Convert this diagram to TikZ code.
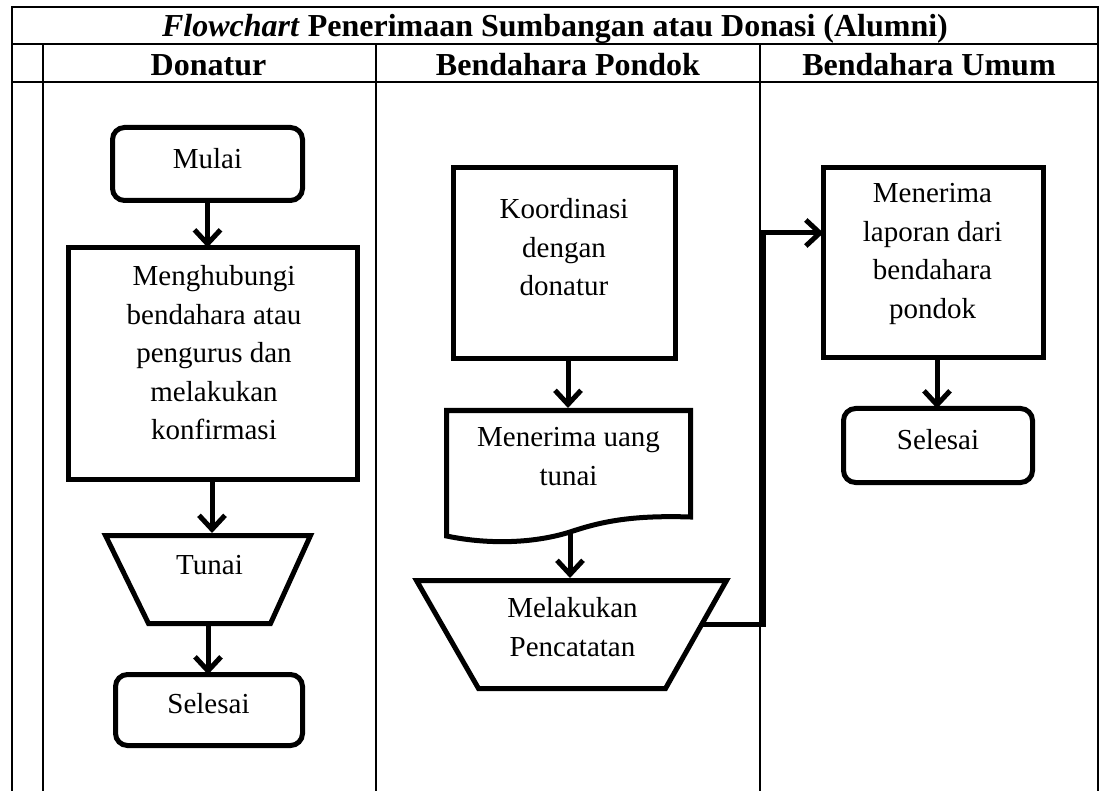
\documentclass[tikz,border=0pt]{standalone}
\usepackage{fontspec}
\setmainfont{Liberation Serif}
\usetikzlibrary{arrows.meta,calc}
\begin{document}
\begin{tikzpicture}[x=1pt,y=-1pt,
  grid/.style={line width=2.2pt},
  shp/.style={line width=5pt, line join=miter},
  terminal/.style={draw, line width=5pt, rounded corners=12pt, inner sep=0pt, outer sep=0pt},
  procbox/.style={draw, line width=5pt, inner sep=0pt, outer sep=0pt},
  ghost/.style={inner sep=0pt, outer sep=0pt},
  txt/.style={font=\fontsize{29}{38.5}\selectfont, align=center, inner sep=0pt, anchor=north},
  hdr/.style={font=\fontsize{32}{36}\selectfont\bfseries, inner sep=0pt, anchor=base},
  tipstyle/.style={-{Straight Barb[length=14pt,width=26pt]}},
  arr/.style={line width=5pt, tipstyle}]
\useasboundingbox (0,0) rectangle (1103,791);
% table
\draw[grid] (12,791) -- (12,7) -- (1098,7) -- (1098,791);
\draw[grid] (12,44) -- (1098,44);
\draw[grid] (12,82) -- (1098,82);
\draw[grid] (43,44) -- (43,791);
\draw[grid] (376,44) -- (376,791);
\draw[grid] (760,44) -- (760,791);
\node[hdr] (title) at (555,37) {\textit{Flowchart} Penerimaan Sumbangan atau Donasi (Alumni)};
\node[hdr] (h1) at (208.5,76) {Donatur};
\node[hdr] (h2) at (568,76) {Bendahara Pondok};
\node[hdr] (h3) at (929,76) {Bendahara Umum};
% Donatur lane
\node[terminal, minimum width=190, minimum height=73] (mulai) at (207.5,164) {};
\node[txt] (tmulai) at (207.5,148.2) {Mulai};
\node[procbox, minimum width=289, minimum height=232] (hub) at (213,363.5) {};
\node[txt] (thub) at (214,265.2) {Menghubungi\\bendahara atau\\pengurus dan\\melakukan\\konfirmasi};
\node[ghost, minimum width=210, minimum height=93] (tunai) at (208,579.5) {};
\draw[shp] (105.5,535.5) -- (310.5,535.5) -- (270.5,623.5) -- (148.5,623.5) -- cycle;
\node[txt] (ttunai) at (209.5,555.2) {Tunai};
\node[terminal, minimum width=187, minimum height=71] (sel1) at (209,710) {};
\node[txt] (tsel1) at (208.5,693.2) {Selesai};
% Bendahara Pondok lane
\node[procbox, minimum width=222, minimum height=191] (koord) at (564.5,263) {};
\node[txt] (tkoord) at (564,198.2) {Koordinasi\\dengan\\donatur};
\node[ghost, minimum width=249, minimum height=135] (doc) at (568.5,475.5) {};
\draw[shp] (446.5,410.5) -- (690.5,410.5) -- (690.5,517)
  .. controls (630,515) and (600,522) .. (570,532)
  .. controls (535,543) and (490,545) .. (446.5,536) -- cycle;
\node[txt] (tdoc) at (568.5,427.2) {Menerima uang\\tunai};
\node[ghost, minimum width=315, minimum height=113] (catat) at (571.5,634.5) {};
\draw[shp] (416.5,580.5) -- (726.5,580.5) -- (665.5,688.5) -- (478.5,688.5) -- cycle;
\node[txt] (tcatat) at (572.5,597.2) {Melakukan\\Pencatatan};
% Bendahara Umum lane
\node[procbox, minimum width=220, minimum height=190] (lap) at (933.5,262.5) {};
\node[txt] (tlap) at (932.5,183.2) {Menerima\\laporan dari\\bendahara\\pondok};
\node[terminal, minimum width=189, minimum height=74] (sel2) at (938,445.5) {};
\node[txt] (tsel2) at (938,429.2) {Selesai};
% connectors
\draw[arr] (mulai.south) -- (mulai.south |- hub.north);
\draw[arr] ([xshift=-1pt]hub.south) -- ([xshift=-1pt]hub.south |- tunai.north);
\draw[arr] (tunai.south) -- (tunai.south |- sel1.north);
\draw[arr] ([xshift=3.5pt]koord.south) -- ([xshift=3.5pt]koord.south |- doc.north);
\coordinate (docout) at (570,530);
\draw[arr] (docout) -- (docout |- catat.north);
\coordinate (c0) at (701,624);
\coordinate (turn) at (763,233);
\draw[arr] (c0) -| (turn) -- (turn -| lap.west);
\draw[arr] ([xshift=3.5pt]lap.south) -- ([xshift=3.5pt]lap.south |- sel2.north);
\end{tikzpicture}
\end{document}
